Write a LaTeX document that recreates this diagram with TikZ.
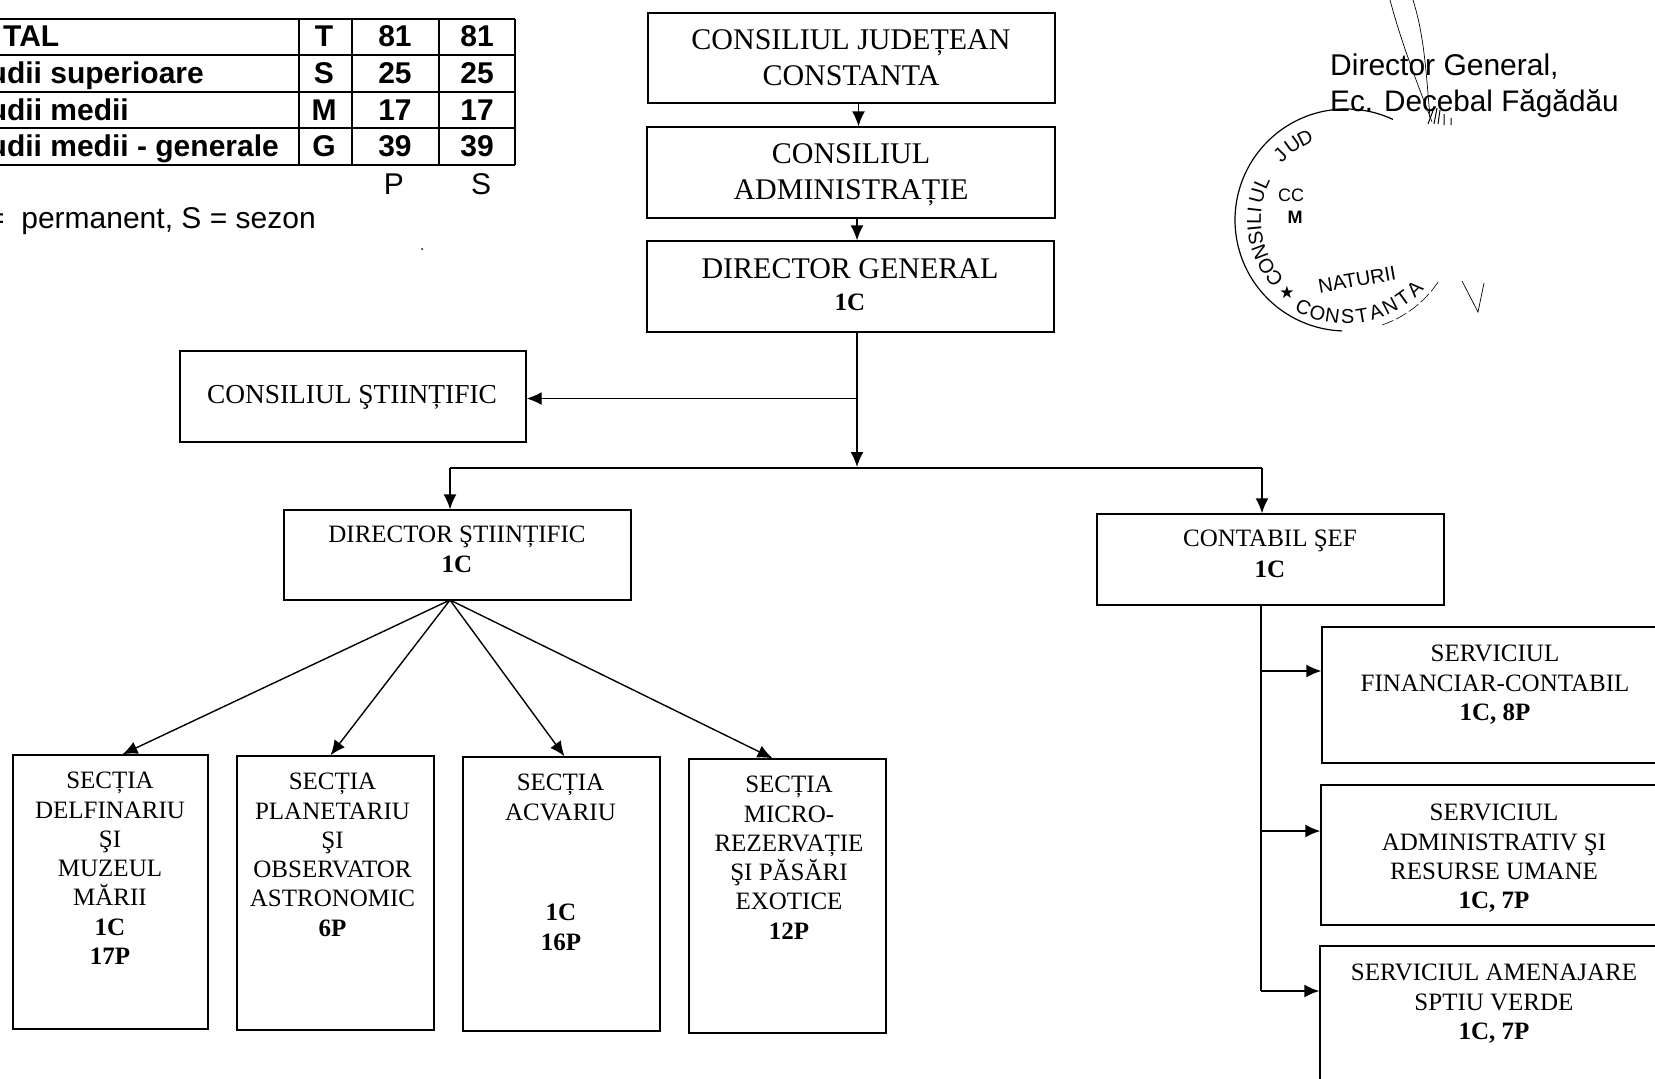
\documentclass[tikz,border=0pt]{standalone}
\usepackage{fontspec}
\setmainfont{Liberation Serif}
\newfontfamily\arialf{Liberation Sans}
\newfontfamily\starf{DejaVu Sans}
\usetikzlibrary{arrows.meta}
\tikzset{
  box/.style={draw=black,line width=1.4pt,rectangle,inner sep=0pt,fill=none},
  szlg/.style={font=\fontsize{30}{36.5}\selectfont,align=center,inner sep=0pt,anchor=north},
  szmd/.style={font=\fontsize{27.4}{33}\selectfont,align=center,inner sep=0pt},
  szsm/.style={font=\fontsize{25}{29.3}\selectfont,align=center,inner sep=0pt,anchor=north},
  conn/.style={line width=1.4pt,-{Latex[length=15pt,width=13pt]}},
  plain/.style={line width=1.4pt},
  tb/.style={font=\arialf\bfseries\fontsize{30}{36}\selectfont,inner sep=0pt,anchor=base},
  tr/.style={font=\arialf\fontsize{30}{36}\selectfont,inner sep=0pt,anchor=base},
  tline/.style={line width=1.3pt},
  sthin/.style={line width=0.7pt},
  stampl/.style={font=\arialf\fontsize{20}{20}\selectfont,inner sep=0pt},
}
\begin{document}
\begin{tikzpicture}[x=1pt,y=-1pt]
\useasboundingbox (0,0) rectangle (1655,1079);
\fill[white] (0,0) rectangle (1655,1079);
% table
\foreach \yy in {19,55,92,128,165} \draw[tline] (0,\yy) -- (515,\yy);
\foreach \xx in {299,352,439,515} \draw[tline] (\xx,19) -- (\xx,165);
\node[tb,anchor=base west] (t1) at (3,46) {TAL};
\node[tb,anchor=base east] (t2) at (204,83) {udii superioare};
\node[tb,anchor=base east] (t3) at (129,120) {udii medii};
\node[tb,anchor=base east] (t4) at (279,156) {udii medii - generale};
\foreach \n/\yy/\a/\b/\c in {a/46/T/81/81,b/83/S/25/25,c/120/M/17/17,d/156/G/39/39}{
  \node[tb] (k\n) at (324,\yy) {\a};
  \node[tb] (p\n) at (395,\yy) {\b};
  \node[tb] (s\n) at (477,\yy) {\c};
}
\node[tr] (lp) at (394,194) {P};
\node[tr] (ls) at (481,194) {S};
\node[tr,anchor=base west] (leg) at (-13,228) {=\ \ permanent, S = sezon};
\fill (422,249) circle (1pt);
% signature block
\node[tr,anchor=base west] (dir) at (1330,75) {Director General,};
\node[tr,anchor=base west,font=\arialf\fontsize{29.7}{36}\selectfont] (ec) at (1330,111) {Ec. Decebal Făgădău};
\draw[sthin] (1390,0) .. controls (1402,45) and (1418,85) .. (1432,122);
\draw[sthin] (1413,0) .. controls (1424,35) and (1426,70) .. (1430,118);
\draw[line width=1pt] (1428,124) -- (1434,108) (1434,124) -- (1437,108) (1438,124) -- (1440,110) (1444,125) -- (1444,114) (1451,125) -- (1451,118);
\draw[sthin] (1462,281) -- (1478,312) -- (1484,283);
% stamp
\draw[line width=1.2pt,domain=65:268,samples=80,smooth] plot ({1346+111*cos(\x)},{220-111*sin(\x)});
\draw[line width=0.6pt,dash pattern=on 12pt off 3pt,domain=289:327,samples=20,smooth] plot ({1346+111*cos(\x)},{220-111*sin(\x)});
\foreach \ang/\ch in {219/C,210/O,200.5/N,191.5/S,185.5/I,179.5/L,173.5/I,165/U,156/L,135.5/J,125.5/U,116.5/D}{
  \node[stampl,rotate=\ang-90] at ({1346+92*cos(\ang)},{220-92*sin(\ang)}) {\ch};
}
\foreach \ang/\ch in {244/C,253/O,262/N,271/S,279.5/T,288/A,297/N,306/T,315/A}{
  \node[stampl,rotate=\ang+90] at ({1346+97*cos(\ang)},{220-97*sin(\ang)}) {\ch};
}
\node[font=\starf\fontsize{17}{17}\selectfont,inner sep=0pt] (star) at (1287,292) {★};
\node[font=\arialf\fontsize{20}{20}\selectfont,inner sep=0pt,rotate=10] (nat) at (1357,280) {NATURII};
\node[font=\arialf\fontsize{18}{18}\selectfont,inner sep=0pt] (cc) at (1291,195) {CC};
\node[font=\arialf\bfseries\fontsize{18}{18}\selectfont,inner sep=0pt] (mm) at (1295,217) {M};
% top boxes
\node[box,minimum width=407pt,minimum height=90pt] (cj) at (851.5,58) {};
\node[box,minimum width=408pt,minimum height=91pt] (ca) at (851,172.5) {};
\node[box,minimum width=407pt,minimum height=91pt] (dg) at (850.5,286.5) {};
\node[box,minimum width=346pt,minimum height=91pt] (cs) at (353,396.5) {};
\node[box,minimum width=347pt,minimum height=90pt] (ds) at (457.5,555) {};
\node[box,minimum width=347pt,minimum height=91pt] (cf) at (1270.5,559.5) {};
\node[szlg] (tcj) at (851,29) {CONSILIUL JUDEȚEAN\\CONSTANTA};
\node[szlg] (tca) at (851,143) {CONSILIUL\\ADMINISTRAȚIE};
\node[szlg] (tdg) at (850,258) {DIRECTOR GENERAL};
\node[szsm,font=\bfseries\fontsize{25}{29.3}\selectfont] (tdgb) at (850,294) {1C};
\node[szmd] (tcs) at (352,397) {CONSILIUL ŞTIINȚIFIC};
\node[szsm] (tds) at (457,526) {DIRECTOR ŞTIINȚIFIC};
\node[szsm,font=\bfseries\fontsize{25}{29.3}\selectfont] (tdsb) at (457,556) {1C};
\node[szsm] (tcf) at (1270,530) {CONTABIL ŞEF};
\node[szsm,font=\bfseries\fontsize{25}{29.3}\selectfont] (tcfb) at (1270,561) {1C};
% sections
\node[box,minimum width=195pt,minimum height=274pt] (s1) at (110.5,892) {};
\node[box,minimum width=197pt,minimum height=274pt] (s2) at (335.5,893) {};
\node[box,minimum width=197pt,minimum height=274pt] (s3) at (561.5,894) {};
\node[box,minimum width=197pt,minimum height=274pt] (s4) at (787.5,896) {};
\node[szsm] (t1a) at (110,772) {SECȚIA\\DELFINARIU\\ŞI\\MUZEUL\\MĂRII\\\textbf{1C}\\\textbf{17P}};
\node[szsm] (t2a) at (332.5,773) {SECȚIA\\PLANETARIU\\ŞI\\OBSERVATOR\\ASTRONOMIC\\\textbf{6P}};
\node[szsm] (t3a) at (560.5,774) {SECȚIA\\ACVARIU};
\node[szsm] (t3b) at (561,904) {\textbf{1C}\\\textbf{16P}};
\node[szsm] (t4a) at (789,776) {SECȚIA\\MICRO-\\REZERVAȚIE\\ŞI PĂSĂRI\\EXOTICE\\\textbf{12P}};
% services
\node[box,minimum width=400pt,minimum height=136pt] (v1) at (1522,695) {};
\node[box,minimum width=400pt,minimum height=140pt] (v2) at (1521,855) {};
\node[box,minimum width=400pt,minimum height=170pt] (v3) at (1520,1031) {};
\node[szsm] (tv1) at (1495,645) {SERVICIUL\\FINANCIAR-CONTABIL\\\textbf{1C, 8P}};
\node[szsm] (tv2) at (1494,804) {SERVICIUL\\ADMINISTRATIV ŞI\\RESURSE UMANE\\\textbf{1C, 7P}};
\node[szsm] (tv3) at (1494,964) {SERVICIUL AMENAJARE\\SPTIU VERDE\\\textbf{1C, 7P}};
% connectors
\draw[conn] ([xshift=7pt]cj.south) -- ([xshift=7pt]cj.south |- ca.north);
\draw[conn] ([xshift=6pt]ca.south) -- ([xshift=6pt]ca.south |- dg.north);
\coordinate (jt) at (857,467);
\draw[conn] (jt |- dg.south) -- (jt);
\draw[conn] ([yshift=-2pt]cs.east -| jt) -- ([yshift=-2pt]cs.east);
\coordinate (hl) at (450,468);
\coordinate (hr) at (1262,468);
\draw[plain] (hl) -- (hr);
\draw[conn] (hl) -- (hl |- ds.north);
\draw[conn] (hr) -- (hr |- cf.north);
\coordinate (do) at (450,600);
\draw[conn] (do) -- ([xshift=12pt]s1.north);
\draw[conn] (do) -- ([xshift=-5pt]s2.north);
\draw[conn] (do) -- ([xshift=3pt]s3.north);
\draw[conn] (do) -- ([xshift=-15pt]s4.north);
\coordinate (tr1) at (1261,605);
\coordinate (tr2) at (1261,991);
\draw[plain] (tr1) -- (tr2);
\draw[conn] (tr1 |- 0,671) -- (v1.west |- 0,671);
\draw[conn] (tr1 |- 0,831) -- (v2.west |- 0,831);
\draw[conn] (tr2) -- (v3.west |- tr2);
\end{tikzpicture}
\end{document}
